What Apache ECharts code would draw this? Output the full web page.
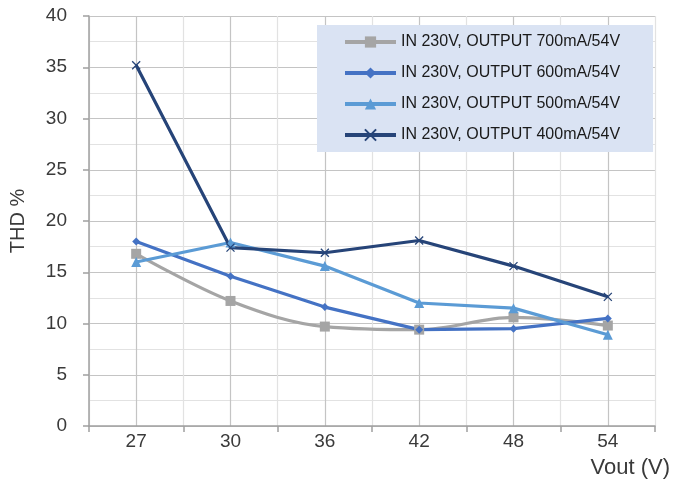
<!DOCTYPE html>
<html><head><meta charset="utf-8">
<script src="https://cdn.jsdelivr.net/npm/echarts@6/dist/echarts.min.js"></script>
<style>html,body{margin:0;padding:0;background:#fff}#c{width:673px;height:479px}</style>
</head><body><div id="c"></div>
<script>
const categories = ['27', '30', '36', '42', '48', '54'];
const names = ['IN 230V, OUTPUT 700mA/54V', 'IN 230V, OUTPUT 600mA/54V', 'IN 230V, OUTPUT 500mA/54V', 'IN 230V, OUTPUT 400mA/54V'];
const s700 = [16.8, 12.2, 9.7, 9.4, 10.6, 9.8];
const s600 = [18.0, 14.6, 11.6, 9.4, 9.5, 10.5];
const s500 = [16.0, 17.9, 15.6, 12.0, 11.5, 8.9];
const s400 = [35.2, 17.4, 16.9, 18.1, 15.6, 12.6];
const colors = ['#a5a5a5', '#4472c4', '#5b9bd5', '#264478'];
const FONT = '"Liberation Sans", Arial, sans-serif';

const chart = echarts.init(document.getElementById('c'), null, {renderer: 'canvas'});
function mk(i, data, symbol, size, extra) {
  return Object.assign({
    name: names[i], type: 'line', data: data, xAxisIndex: 0,
    symbol: symbol, symbolSize: size,
    lineStyle: {color: colors[i], width: 3.2},
    itemStyle: {color: colors[i]},
    emphasis: {disabled: true},
    z: 3
  }, extra || {});
}
chart.setOption({
  animation: false,
  grid: {left: 88, right: 18, top: 16, bottom: 52},
  legend: {
    orient: 'vertical', left: 317, top: 25,
    backgroundColor: '#dae3f3',
    padding: [9, 33, 9, 26],
    itemWidth: 51, itemHeight: 14, itemGap: 15,
    lineStyle: {width: 4},
    textStyle: {fontFamily: FONT, fontSize: 16, color: '#1a1a1a'},
    data: names
  },
  xAxis: [{
    type: 'category', data: categories, boundaryGap: true,
    axisLine: {lineStyle: {color: '#a0a0a0', width: 1.5}},
    axisTick: {show: true, length: 6, lineStyle: {color: '#a0a0a0', width: 1.5}},
    axisLabel: {fontFamily: FONT, fontSize: 19, color: '#3a3a3a', margin: 6},
    splitLine: {show: false},
    name: 'Vout (V)', nameLocation: 'end', nameGap: 15,
    nameTextStyle: {fontFamily: FONT, fontSize: 22, color: '#3a3a3a', align: 'right', verticalAlign: 'top', padding: [31, 0, 0, 0]},
    z: 2
  }, {
    type: 'value', min: 0, max: 12, interval: 1, position: 'bottom',
    axisLine: {show: false}, axisTick: {show: false}, axisLabel: {show: false},
    splitLine: {show: true, lineStyle: {color: ['#e2e2e2', '#c4c4c4'], width: 1.2}},
    z: 0
  }],
  yAxis: {
    type: 'value', min: 0, max: 40, interval: 5,
    axisLine: {show: true, lineStyle: {color: '#a0a0a0', width: 1.5}},
    axisTick: {show: true, length: 6, lineStyle: {color: '#a0a0a0', width: 1.5}},
    axisLabel: {fontFamily: FONT, fontSize: 19, color: '#3a3a3a', margin: 22},
    splitLine: {show: true, lineStyle: {color: '#c4c4c4', width: 1.2}},
    minorTick: {show: false, splitNumber: 2},
    minorSplitLine: {show: true, lineStyle: {color: '#e2e2e2', width: 1.2}},
    name: 'THD %', nameLocation: 'middle', nameGap: 61, nameRotate: 90,
    nameTextStyle: {fontFamily: FONT, fontSize: 20, color: '#3a3a3a'}
  },
  series: [
    mk(0, s700, 'rect', 10, {smooth: 0.35}),
    mk(1, s600, 'diamond', 8),
    mk(2, s500, 'triangle', 10),
    mk(3, s400, 'path://M0,0L10,10M10,0L0,10', 8, {itemStyle: {color: colors[3], borderColor: colors[3], borderWidth: 1.3}})
  ]
});
</script>
</body></html>
